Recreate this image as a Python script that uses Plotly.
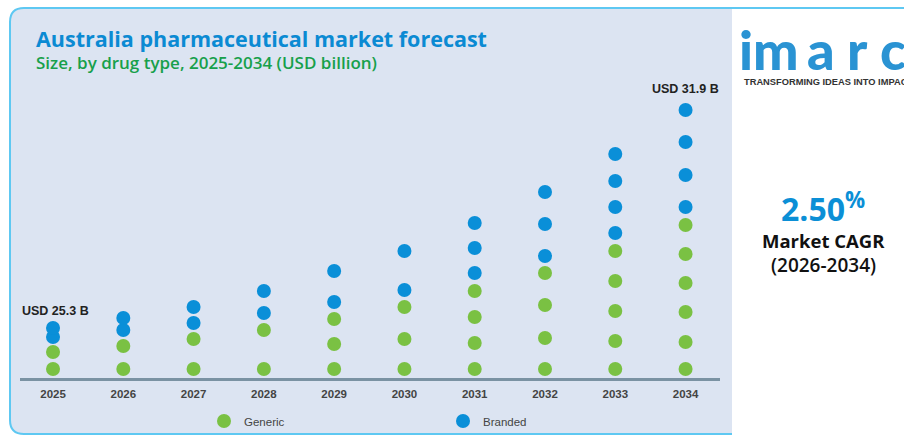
import plotly.graph_objects as go

# ---------------- data ----------------
years = ["2025", "2026", "2027", "2028", "2029", "2030", "2031", "2032", "2033", "2034"]
# dot levels (chart height units above the baseline) for each year
generic_dots = [
    [9, 26], [9, 32], [9, 39], [9, 48], [9, 34, 59], [9, 39, 71],
    [9, 35, 61, 87], [9, 40, 73, 105], [9, 37, 67, 97, 127], [9, 36, 66, 95, 124, 153],
]
branded_dots = [
    [41, 50], [48, 60], [55, 71], [65, 87], [76, 107], [88, 127],
    [105, 130, 155], [122, 154, 186], [145, 171, 197, 224], [171, 203, 236, 268],
]
total_labels = {"2025": 25.3, "2034": 31.9}
cagr = 2.50
cagr_period = "2026-2034"

# ---------------- geometry helpers ----------------
W, H = 904, 435
L, R, T, B = 20, 184, 0, 57
PW, PH = W - L - R, H - T - B


def px(x, y):
    return (x - L) / PW, (H - B - y) / PH


GREEN = "#7ac143"
BLUE = "#0a8fd8"
PANEL = "#dce4f2"
BORDER = "#5ec8f2"

fig = go.Figure()

gx, gy, bx, by = [], [], [], []
for i, (g, b) in enumerate(zip(generic_dots, branded_dots)):
    gx += [i] * len(g)
    gy += g
    bx += [i] * len(b)
    by += b

fig.add_trace(go.Scatter(x=gx, y=gy, mode="markers", name="Generic",
                         marker=dict(color=GREEN, size=14), cliponaxis=False,
                         hoverinfo="y"))
fig.add_trace(go.Scatter(x=bx, y=by, mode="markers", name="Branded",
                         marker=dict(color=BLUE, size=14), cliponaxis=False,
                         hoverinfo="y"))

# ---------------- panel shapes ----------------
x0, x1, y0, y1, r = 10, 732, 8, 434, 14
fx0, fy0 = px(x0, y0)
fx1, fy1 = px(x1, y1)
rx, ry = r / PW, r / PH
panel_path = (f"M {fx0+rx},{fy0} L {fx1},{fy0} L {fx1},{fy1} L {fx0+rx},{fy1} "
              f"Q {fx0},{fy1} {fx0},{fy1+ry} L {fx0},{fy0-ry} Q {fx0},{fy0} {fx0+rx},{fy0} Z")
fig.add_shape(type="path", path=panel_path, xref="paper", yref="paper",
              fillcolor=PANEL, line=dict(width=0), layer="below")
fend, _ = px(W + 2, y0)
border_path = (f"M {fend},{fy0} L {fx0+rx},{fy0} Q {fx0},{fy0} {fx0},{fy0-ry} "
               f"L {fx0},{fy1+ry} Q {fx0},{fy1} {fx0+rx},{fy1} L {fx1},{fy1}")
fig.add_shape(type="path", path=border_path, xref="paper", yref="paper",
              line=dict(color=BORDER, width=2), layer="below")

# ---------------- annotations ----------------
ann = []


def text(x, y, s, size, color, family="Open Sans", weight="bold", xanchor="left"):
    ax, ay = px(x, y)
    ann.append(dict(x=ax, y=ay, xref="paper", yref="paper", text=s, showarrow=False,
                    xanchor=xanchor, yanchor="middle",
                    font=dict(size=size, color=color, family=family, weight=weight)))


text(34, 39, "Australia pharmaceutical market forecast", 21.5, "#0b8ad3")
text(34, 62, "Size, by drug type, 2025-2034 (USD billion)", 17, "#17a04b", weight=600)

# value labels above first / last column
label_shift = {"2025": 17, "2034": 21}
for i, yr in enumerate(years):
    if yr in total_labels:
        top = max(branded_dots[i])
        ann.append(dict(x=i, y=top, xref="x", yref="y", showarrow=False,
                        text=f"USD {total_labels[yr]} B", yshift=label_shift[yr],
                        xshift=2 if i == 0 else 0,
                        font=dict(size=12.5, color="#222", family="Liberation Sans", weight="bold")))

# right side: logo + CAGR
logo = [("i", 746), ("m", 776), ("a", 821), ("r", 857), ("c", 893)]
for ch, cx in logo:
    text(cx, 49, ch, 54, "#2a93d3", family="Lato", weight=900, xanchor="center")
text(742, 82, "TRANSFORMING IDEAS INTO IMPACT", 9.3, "#333", family="Liberation Sans")
text(823, 207, f"{cagr:.2f}<sup>%</sup>", 32, "#0b8fd6", xanchor="center")
text(823, 240, "Market CAGR", 18.5, "#111", xanchor="center")
text(823, 265, f"({cagr_period})", 19, "#111", weight=600, xanchor="center")

lx, ly = px(204, 421)
fig.update_layout(
    width=W, height=H,
    margin=dict(l=L, r=R, t=T, b=B, autoexpand=False),
    paper_bgcolor="white", plot_bgcolor="rgba(0,0,0,0)",
    showlegend=True,
    legend=dict(orientation="h", x=lx, y=ly, xanchor="left", yanchor="middle",
                entrywidth=194, bgcolor="rgba(0,0,0,0)",
                font=dict(size=11.5, color="#444", family="Liberation Sans")),
    xaxis=dict(range=[-0.47, 9.49], showgrid=False, zeroline=False, showline=True,
               linecolor="#7a92a3", linewidth=2.5, ticks="",
               tickmode="array", tickvals=list(range(len(years))), ticktext=years,
               tickfont=dict(size=11.5, color="#444", family="Liberation Sans", weight="bold"),
               ticklabelstandoff=3, fixedrange=True),
    yaxis=dict(range=[0, PH], visible=False, fixedrange=True),
    annotations=ann,
)

fig.write_html("out.html")
